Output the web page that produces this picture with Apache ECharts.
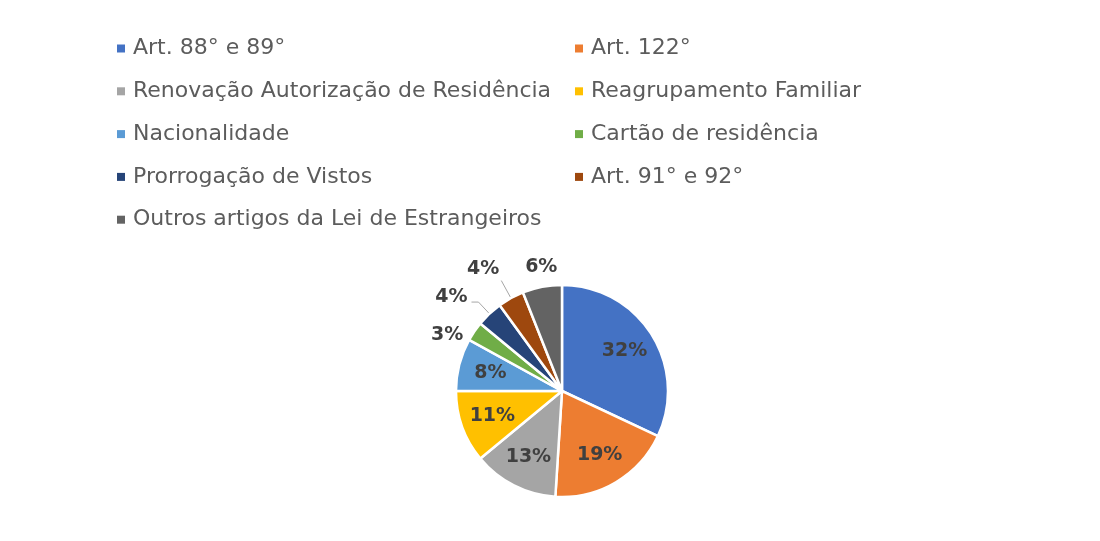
<!DOCTYPE html>
<html>
<head>
<meta charset="utf-8">
<script src="https://cdn.jsdelivr.net/npm/echarts@6/dist/echarts.min.js"></script>
<style>
  html, body { margin: 0; padding: 0; background: #ffffff; }
  #chart { width: 1100px; height: 541px; }
</style>
</head>
<body>
<div id="chart"></div>
<script>
// Categories of processes and their share (%)
const categories = [
  'Art. 88° e 89°',
  'Art. 122°',
  'Renovação Autorização de Residência',
  'Reagrupamento Familiar',
  'Nacionalidade',
  'Cartão de residência',
  'Prorrogação de Vistos',
  'Art. 91° e 92°',
  'Outros artigos da Lei de Estrangeiros'
];
const shares = [32, 19, 13, 11, 8, 3, 4, 4, 6];
const colors = ['#4472C4', '#ED7D31', '#A5A5A5', '#FFC000', '#5B9BD5', '#70AD47', '#264478', '#9E480E', '#636363'];

// Label placement for the thin slices, whose percentages sit outside the pie.
// 'nudge' is a small vertical shift of the text after the pie has laid it out.
const outsideLabelStyle = {
  5: { line: false, length: 0, length2: 0, distance: 11, nudge: 4 },
  6: { line: true, length: 16, length2: 7, distance: 4, nudge: -5 },
  7: { line: true, length: 20, length2: 0, distance: 2, nudge: -12 },
  8: { line: false, length: 20, length2: 0, distance: -19, nudge: 0 }
};

const labelFont = {
  fontFamily: 'DejaVu Sans',
  fontWeight: 'bold',
  fontSize: 19,
  color: '#404040'
};

const mainData = categories.map((name, i) => {
  const o = outsideLabelStyle[i];
  const item = {
    name: name,
    value: shares[i],
    itemStyle: { color: colors[i] },
    label: { show: !!o },
    labelLine: { show: false }
  };
  if (o) {
    item.label.distanceToLabelLine = o.distance;
    item.labelLine = { show: o.line, length: o.length, length2: o.length2 };
  }
  return item;
});

const innerLabelData = categories.map((name, i) => ({
  name: name,
  value: shares[i],
  label: { show: !outsideLabelStyle[i] }
}));

const legendText = {
  fontFamily: 'DejaVu Sans',
  fontSize: 22,
  color: '#5c5c5c',
  lineHeight: 26,
  padding: [0, 0, 0, 3]
};

const legendBase = {
  orient: 'vertical',
  top: 35.5,
  padding: 0,
  itemWidth: 8,
  itemHeight: 8,
  itemGap: 16.8,
  icon: 'rect',
  itemStyle: { borderWidth: 0 },
  textStyle: legendText
};

const chart = echarts.init(document.getElementById('chart'), null, { renderer: 'canvas' });
chart.setOption({
  backgroundColor: '#ffffff',
  animation: false,
  legend: [
    Object.assign({ left: 117, data: categories.filter((c, i) => i % 2 === 0) }, legendBase),
    Object.assign({ left: 575, data: categories.filter((c, i) => i % 2 === 1) }, legendBase)
  ],
  series: [
    {
      type: 'pie',
      center: [562, 391],
      radius: [0, 106],
      startAngle: 90,
      clockwise: true,
      avoidLabelOverlap: false,
      itemStyle: { borderColor: '#ffffff', borderWidth: 2.5 },
      label: Object.assign({
        position: 'outside',
        formatter: '{c}%'
      }, labelFont),
      labelLine: {
        lineStyle: { color: '#a6a6a6', width: 1 }
      },
      labelLayout: function (p) {
        const o = outsideLabelStyle[p.dataIndex];
        return { dy: o ? o.nudge : 0 };
      },
      data: mainData
    },
    {
      // label layer that puts the inside percentages further from the centre
      type: 'pie',
      center: [562, 391],
      radius: [36, 106],
      startAngle: 90,
      clockwise: true,
      silent: true,
      itemStyle: { color: 'rgba(0,0,0,0)' },
      label: Object.assign({
        position: 'inside',
        formatter: '{c}%'
      }, labelFont),
      labelLine: { show: false },
      data: innerLabelData
    }
  ]
});
</script>
</body>
</html>
